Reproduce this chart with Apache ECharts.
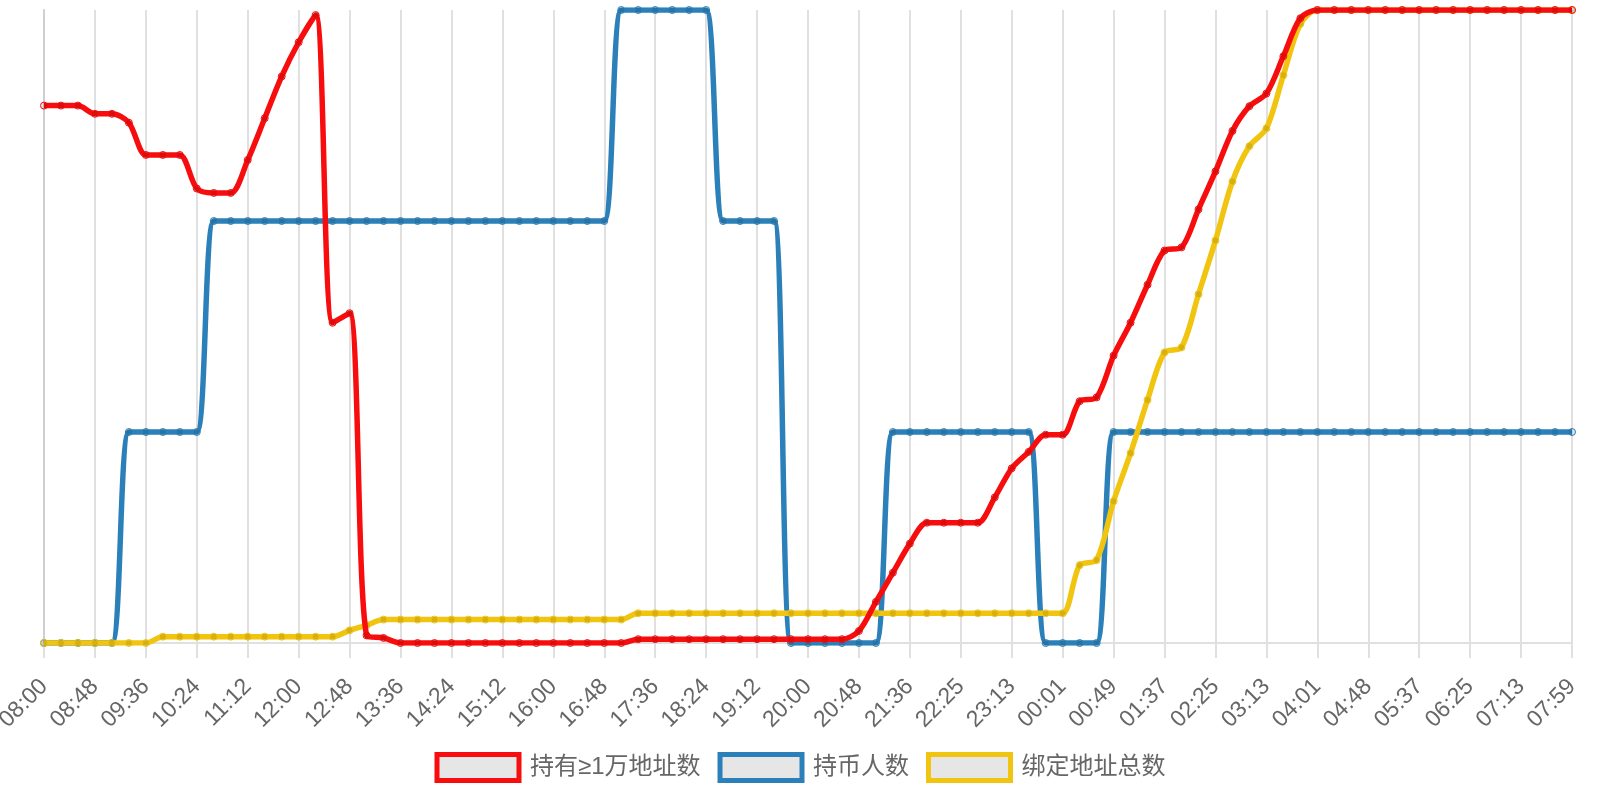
<!DOCTYPE html>
<html>
<head>
<meta charset="utf-8">
<title>持币统计</title>
<script src="https://cdn.jsdelivr.net/npm/echarts@6/dist/echarts.min.js"></script>
<style>
    html, body { margin: 0; padding: 0; background: #fff; }
    #main { width: 1600px; height: 800px; }
</style>
</head>
<body>
<div id="main"></div>
<script>
// x 轴显示的时间点（每 3 个数据点一个）
var tickLabels = ['08:00', '08:48', '09:36', '10:24', '11:12', '12:00', '12:48', '13:36', '14:24', '15:12',
    '16:00', '16:48', '17:36', '18:24', '19:12', '20:00', '20:48', '21:36', '22:25', '23:13',
    '00:01', '00:49', '01:37', '02:25', '03:13', '04:01', '04:48', '05:37', '06:25', '07:13', '07:59'];

// 持有≥1万地址数（相对值，最大 100）
var holders10k = [84.9, 84.9, 84.9, 83.6, 83.6, 82.2, 77.1, 77.1, 77.1, 71.8,
    71.1, 71.1, 76.3, 82.9, 89.5, 94.9, 99.2, 50.6, 52.1, 1.2,
    0.8, 0, 0, 0, 0, 0, 0, 0, 0, 0,
    0, 0, 0, 0, 0, 0.6, 0.6, 0.6, 0.6, 0.6,
    0.6, 0.6, 0.6, 0.6, 0.6, 0.6, 0.6, 0.6, 1.9, 6.5,
    11.1, 15.7, 19.0, 19.0, 19.0, 19.0, 23.0, 27.6, 30.2, 32.9,
    32.9, 38.2, 38.8, 45.4, 50.6, 56.6, 62.0, 62.5, 68.5, 74.5,
    80.9, 84.8, 86.8, 92.7, 98.7, 100, 100, 100, 100, 100,
    100, 100, 100, 100, 100, 100, 100, 100, 100, 100,
    100];

// 持币人数
var holderCount = [0, 0, 0, 0, 0, 1, 1, 1, 1, 1,
    2, 2, 2, 2, 2, 2, 2, 2, 2, 2,
    2, 2, 2, 2, 2, 2, 2, 2, 2, 2,
    2, 2, 2, 2, 3, 3, 3, 3, 3, 3,
    2, 2, 2, 2, 0, 0, 0, 0, 0, 0,
    1, 1, 1, 1, 1, 1, 1, 1, 1, 0,
    0, 0, 0, 1, 1, 1, 1, 1, 1, 1,
    1, 1, 1, 1, 1, 1, 1, 1, 1, 1,
    1, 1, 1, 1, 1, 1, 1, 1, 1, 1,
    1];

// 绑定地址总数（相对值，最大 100）
var boundTotal = [0, 0, 0, 0, 0, 0, 0, 1.0, 1.0, 1.0,
    1.0, 1.0, 1.0, 1.0, 1.0, 1.0, 1.0, 1.0, 2.0, 2.8,
    3.7, 3.7, 3.7, 3.7, 3.7, 3.7, 3.7, 3.7, 3.7, 3.7,
    3.7, 3.7, 3.7, 3.7, 3.7, 4.7, 4.7, 4.7, 4.7, 4.7,
    4.7, 4.7, 4.7, 4.7, 4.7, 4.7, 4.7, 4.7, 4.7, 4.7,
    4.7, 4.7, 4.7, 4.7, 4.7, 4.7, 4.7, 4.7, 4.7, 4.7,
    4.7, 12.3, 13.1, 22.4, 30.0, 38.4, 45.9, 46.7, 55.1, 63.6,
    72.9, 78.5, 81.3, 89.7, 97.8, 100, 100, 100, 100, 100,
    100, 100, 100, 100, 100, 100, 100, 100, 100, 100,
    100];

var seriesNames = ['持有≥1万地址数', '持币人数', '绑定地址总数'];
var lineColors = ['#f70d0d', '#2b80b9', '#f1c40f'];

drawMain();

function drawMain() {
    var myChart = echarts.init(document.getElementById('main'));

    // 类目：只在每 3 个点处放时间
    var categories = [];
    for (var i = 0; i < holderCount.length; i++) {
        categories.push(i % 3 === 0 ? tickLabels[i / 3] : '');
    }

    var option = {
        backgroundColor: '#fff',
        animation: false,
        grid: {
            left: 44,
            right: 28,
            top: 10,
            bottom: 157,
            outerBoundsMode: 'none'
        },
        legend: {
            bottom: 12,
            left: 'center',
            icon: 'rect',
            itemWidth: 82,
            itemHeight: 26,
            itemGap: 17,
            selectedMode: false,
            textStyle: {
                color: '#666',
                fontSize: 24,
                fontFamily: "'Liberation Sans', 'Noto Sans CJK SC'",
                padding: [0, 0, 0, 6]
            },
            data: seriesNames.map(function (name, k) {
                return {
                    name: name,
                    itemStyle: {
                        color: '#e6e6e6',
                        borderColor: lineColors[k],
                        borderWidth: 5
                    }
                };
            })
        },
        xAxis: {
            type: 'category',
            boundaryGap: false,
            data: categories,
            axisLine: {
                lineStyle: { color: '#e0e0e0', width: 2 }
            },
            axisTick: {
                interval: 2,
                length: 15,
                lineStyle: { color: '#e0e0e0', width: 2 }
            },
            axisLabel: {
                interval: 2,
                rotate: 45,
                margin: 40,
                color: '#666',
                fontSize: 23,
                fontFamily: 'Liberation Sans'
            },
            splitLine: {
                show: true,
                interval: 2,
                lineStyle: { color: '#e0e0e0', width: 2 }
            }
        },
        yAxis: [{
            type: 'value',
            min: 0,
            max: 100,
            axisLabel: { show: false },
            axisTick: { show: false },
            splitLine: { show: false },
            axisLine: {
                show: true,
                lineStyle: { color: '#cfcfcf', width: 2 }
            }
        }, {
            type: 'value',
            min: 0,
            max: 3,
            show: false,
            splitLine: { show: false }
        }],
        series: [
            makeSeries(0, holders10k, 0, 4),
            makeSeries(1, holderCount, 1, 2),
            makeSeries(2, boundTotal, 0, 3)
        ]
    };

    myChart.setOption(option);
}

// 生成一条平滑折线
function makeSeries(k, values, yIndex, z) {
    return {
        name: seriesNames[k],
        type: 'line',
        yAxisIndex: yIndex,
        z: z,
        smooth: 0.3,
        symbol: 'circle',
        symbolSize: 7,
        showAllSymbol: true,
        lineStyle: { width: 5.5, color: lineColors[k] },
        itemStyle: {
            color: 'rgba(0,0,0,0.1)',
            borderColor: lineColors[k],
            borderWidth: 1
        },
        emphasis: { disabled: true },
        data: values
    };
}
</script>
</body>
</html>
